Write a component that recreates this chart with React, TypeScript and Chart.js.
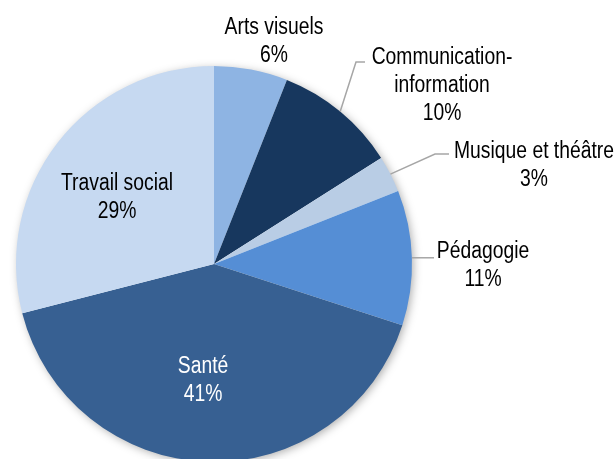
import React, { useEffect, useRef } from "react";
import { Chart, registerables } from "chart.js";

Chart.register(...registerables);

// ---- data ----
const categories = [
  "Arts visuels",
  "Communication-information",
  "Musique et théâtre",
  "Pédagogie",
  "Santé",
  "Travail social",
];
const labelLines = [
  ["Arts visuels"],
  ["Communication-", "information"],
  ["Musique et théâtre"],
  ["Pédagogie"],
  ["Santé"],
  ["Travail social"],
];
const shares = [6, 10, 3, 11, 41, 29];
const percentLabels = ["6%", "10%", "3%", "11%", "41%", "29%"];

// ---- styles / layout ----
const sliceColors = ["#8EB4E3", "#17375E", "#B9CDE5", "#558ED5", "#376092", "#C6D9F1"];
const textColors = ["#000000", "#000000", "#000000", "#000000", "#ffffff", "#000000"];
// text centre x / first baseline, relative to pie centre
const labelOffsets = [
  [60, -230],
  [228, -200],
  [320, -106],
  [269, -6],
  [-11, 109],
  [-97, -74],
];
// leader lines: elbow and end relative to pie centre (null = none)
const leaders: (null | { elbow: number[] | null; end: number[] })[] = [
  null,
  { elbow: [142, -202], end: [151, -202] },
  { elbow: [221, -110], end: [235, -110] },
  { elbow: null, end: [220, 0] },
  null,
  null,
];

const FONT_SIZE = 23;
const LINE_H = 28;
const X_SCALE = 0.84;

const piePlugin = {
  id: "pieDecor",
  beforeDatasetsDraw(chart: any) {
    const meta = chart.getDatasetMeta(0);
    const arc = meta.data[0];
    if (!arc) return;
    const { x, y, outerRadius } = arc.getProps(["x", "y", "outerRadius"], true);
    const ctx = chart.ctx;
    ctx.save();
    ctx.shadowColor = "rgba(0,0,0,0.35)";
    ctx.shadowBlur = 10;
    ctx.shadowOffsetX = 2;
    ctx.shadowOffsetY = 2;
    ctx.fillStyle = "#ffffff";
    ctx.beginPath();
    ctx.arc(x, y, outerRadius - 1, 0, Math.PI * 2);
    ctx.fill();
    ctx.restore();
  },
  afterDatasetsDraw(chart: any) {
    const meta = chart.getDatasetMeta(0);
    const ctx = chart.ctx;
    meta.data.forEach((el: any, i: number) => {
      const { x, y, startAngle, endAngle, outerRadius } = el.getProps(
        ["x", "y", "startAngle", "endAngle", "outerRadius"],
        true
      );
      const mid = (startAngle + endAngle) / 2;
      const sx = x + Math.cos(mid) * outerRadius;
      const sy = y + Math.sin(mid) * outerRadius;
      const ld = leaders[i];
      if (ld) {
        ctx.save();
        ctx.strokeStyle = "#a6a6a6";
        ctx.lineWidth = 1.5;
        ctx.beginPath();
        ctx.moveTo(sx, sy);
        if (ld.elbow) {
          ctx.lineTo(x + ld.elbow[0], y + ld.elbow[1]);
          ctx.lineTo(x + ld.end[0], y + ld.end[1]);
        } else {
          ctx.lineTo(x + ld.end[0], sy);
        }
        ctx.stroke();
        ctx.restore();
      }
      const lines = [...labelLines[i], percentLabels[i]];
      const [ox, oy] = labelOffsets[i];
      ctx.save();
      ctx.font = `${FONT_SIZE}px "Liberation Sans", Arial, sans-serif`;
      ctx.fillStyle = textColors[i];
      ctx.textAlign = "center";
      ctx.textBaseline = "alphabetic";
      lines.forEach((t, k) => {
        ctx.save();
        ctx.translate(x + ox, y + oy + k * LINE_H);
        ctx.scale(X_SCALE, 1);
        ctx.fillText(t, 0, 0);
        ctx.restore();
      });
      ctx.restore();
    });
  },
};

export default function App() {
  const ref = useRef<HTMLCanvasElement | null>(null);
  useEffect(() => {
    if (!ref.current) return;
    const chart = new Chart(ref.current, {
      type: "pie",
      data: {
        labels: categories,
        datasets: [
          {
            data: shares,
            backgroundColor: sliceColors,
            borderWidth: 0,
          },
        ],
      },
      options: {
        responsive: false,
        animation: false,
        layout: { padding: { left: 16, right: 204, top: 66, bottom: 8 } },
        plugins: {
          legend: { display: false },
          tooltip: { enabled: false },
        },
      },
      plugins: [piePlugin],
    });
    return () => chart.destroy();
  }, []);
  return (
    <div
      style={{
        position: "fixed",
        left: 0,
        top: 0,
        width: 616,
        height: 459,
        overflow: "hidden",
        background: "#ffffff",
      }}
    >
      <canvas ref={ref} width={616} height={470} style={{ display: "block" }} />
    </div>
  );
}
